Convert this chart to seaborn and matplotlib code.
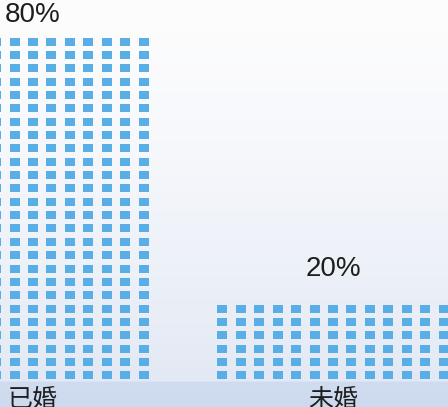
import numpy as np
import pandas as pd
import matplotlib
matplotlib.use("Agg")
import matplotlib.pyplot as plt
from matplotlib.colors import LinearSegmentedColormap
import seaborn as sns

# Marital status shares
categories = ["已婚", "未婚"]
shares = [80, 20]
value_labels = ["80%", "20%"]

sns.set_theme(style="white")
plt.rcParams["font.family"] = ["Liberation Sans", "Noto Sans CJK SC", "DejaVu Sans"]

W, H, DPI = 448, 407, 100
fig = plt.figure(figsize=(W / DPI, H / DPI), dpi=DPI)
ax = fig.add_axes([0, 0, 1, 1])

# Axis scaling (pixels): category centres 300 px apart, first at 33 px;
# zero line 13 px above the bottom edge, 4.45 px per percentage point.
x0_px, x_step_px = 33, 300
base_px, ppu = 13, 4.45
ax.set_xlim(-x0_px / x_step_px, (W - x0_px) / x_step_px)
ax.set_ylim(-base_px / ppu, (H - base_px) / ppu)
ax.set_axis_off()

# Soft vertical background: white at the top fading to pale blue with a floor band
bg = LinearSegmentedColormap.from_list(
    "bg",
    [(0.0, "#cddaee"), (0.06, "#d0dcef"), (0.062, "#e3e9f4"),
     (0.35, "#edf1f8"), (0.7, "#f8f9fc"), (1.0, "#fdfdfd")],
)
grad = np.linspace(0, 1, 512).reshape(-1, 1)
ax.imshow(grad, cmap=bg, aspect="auto", origin="lower",
          extent=[0, 1, 0, 1], transform=ax.transAxes, zorder=0)

# Each bar is drawn as a grid of small tiles: 13 columns wide,
# one row of tiles for every 3 percentage points.
n_cols = 13
col_pitch = 18.45 / x_step_px
row_pitch = 3.0
top_inset = 0.8
cells = []
for i, (cat, v) in enumerate(zip(categories, shares)):
    n_rows = int(v // row_pitch)
    for r in range(n_rows):
        for c in range(n_cols):
            cells.append({
                "category": cat,
                "x": i + (c - (n_cols - 1) / 2) * col_pitch,
                "y": v - top_inset - r * row_pitch,
            })
cells = pd.DataFrame(cells)

tile = [(-1, -0.72), (1, -0.72), (1, 0.72), (-1, 0.72)]
tile_w_pt = 10.0 * 72 / DPI
sns.scatterplot(data=cells, x="x", y="y", marker=tile, s=tile_w_pt ** 2,
                color="#5aaee6", linewidth=0, legend=False, ax=ax, zorder=2)

# Value labels above the bars and category labels along the floor
label_gap_px = [23, 36]
for i, (v, lab, gap) in enumerate(zip(shares, value_labels, label_gap_px)):
    ax.annotate(lab, xy=(i, v), xytext=(0, gap * 72 / DPI),
                textcoords="offset points", ha="center", va="center",
                fontsize=20, color="#1e1e1e", zorder=3)
for i, cat in enumerate(categories):
    ax.annotate(cat, xy=(i, 0), xytext=(0, 7 * 72 / DPI),
                textcoords="offset points", ha="center", va="top",
                fontsize=18, color="#1e1e1e",
                family=["Noto Sans CJK SC", "DejaVu Sans"], zorder=3)

fig.savefig("out.png", dpi=DPI)
